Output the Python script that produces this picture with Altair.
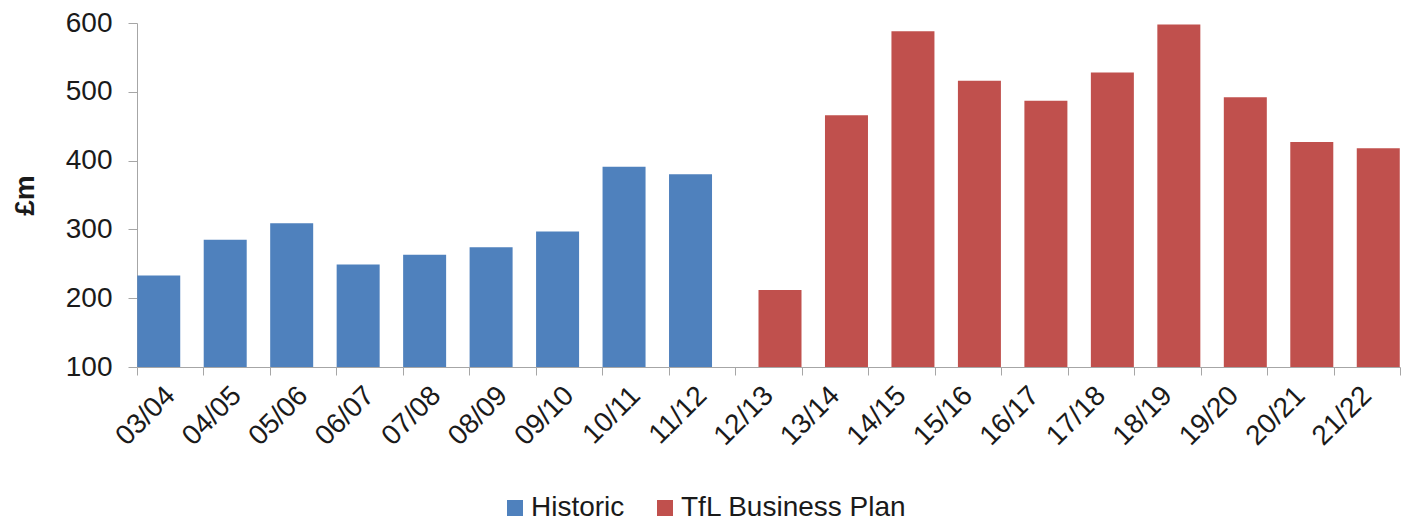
import altair as alt
import pandas as pd

years = ["03/04", "04/05", "05/06", "06/07", "07/08", "08/09", "09/10", "10/11", "11/12",
         "12/13", "13/14", "14/15", "15/16", "16/17", "17/18", "18/19", "19/20", "20/21", "21/22"]
historic_years = years[:9]
historic_values = [233, 285, 309, 249, 263, 274, 297, 391, 380]
plan_years = years[9:]
plan_values = [212, 466, 588, 516, 487, 528, 598, 492, 427, 418]

series_names = ["Historic", "TfL Business Plan"]
series_colors = ["#4F81BD", "#C0504D"]

df = pd.DataFrame({
    "year": historic_years + plan_years,
    "value": historic_values + plan_values,
    "series": [series_names[0]] * len(historic_years) + [series_names[1]] * len(plan_years),
})

FONT = "Liberation Sans"
FS = 28

x = alt.X("year:N", sort=years,
          scale=alt.Scale(domain=years, paddingInner=0, paddingOuter=0),
          axis=alt.Axis(title=None, labelAngle=-45, labelFontSize=FS, labelFont=FONT,
                        labelColor="#1a1a1a", tickBand="extent", domainColor="#a6a6a6",
                        tickColor="#a6a6a6", tickSize=8, labelPadding=16, labelLimit=300,
                        labelAlign="right", labelBaseline="middle"))
y = alt.Y("value:Q",
          scale=alt.Scale(domain=[100, 600], nice=False, zero=False),
          axis=alt.Axis(title="£m", values=[100, 200, 300, 400, 500, 600], grid=False,
                        labelFontSize=FS, labelFont=FONT, labelColor="#1a1a1a",
                        titleFontSize=FS, titleFont=FONT, titleFontWeight="bold",
                        titleColor="#1a1a1a", titlePadding=26,
                        domainColor="#a6a6a6", tickColor="#a6a6a6", tickSize=9,
                        labelPadding=16))
color = alt.Color("series:N",
                  scale=alt.Scale(domain=series_names, range=series_colors),
                  legend=alt.Legend(title=None, orient="none", direction="horizontal",
                                    legendX=364, legendY=471, symbolType="square",
                                    symbolSize=256, symbolStrokeWidth=0,
                                    labelFontSize=FS, labelFont=FONT, labelColor="#1a1a1a",
                                    labelLimit=500, columnPadding=26, labelOffset=2))

base = alt.Chart(df).encode(x=x, y=y, y2=alt.datum(100), color=color)

hist = base.transform_filter(alt.datum.series == series_names[0]).mark_bar(
    width=43, xOffset=-11.5)
plan = base.transform_filter(alt.datum.series == series_names[1]).mark_bar(
    width=43, xOffset=11.5)

chart = alt.layer(hist, plan).properties(
    width=1263, height=344,
    padding={"left": 3, "top": 1, "right": 0, "bottom": 0},
).configure_view(strokeWidth=0, stroke=None)

chart.save("out.html", embed_options={"renderer": "svg", "actions": False})
